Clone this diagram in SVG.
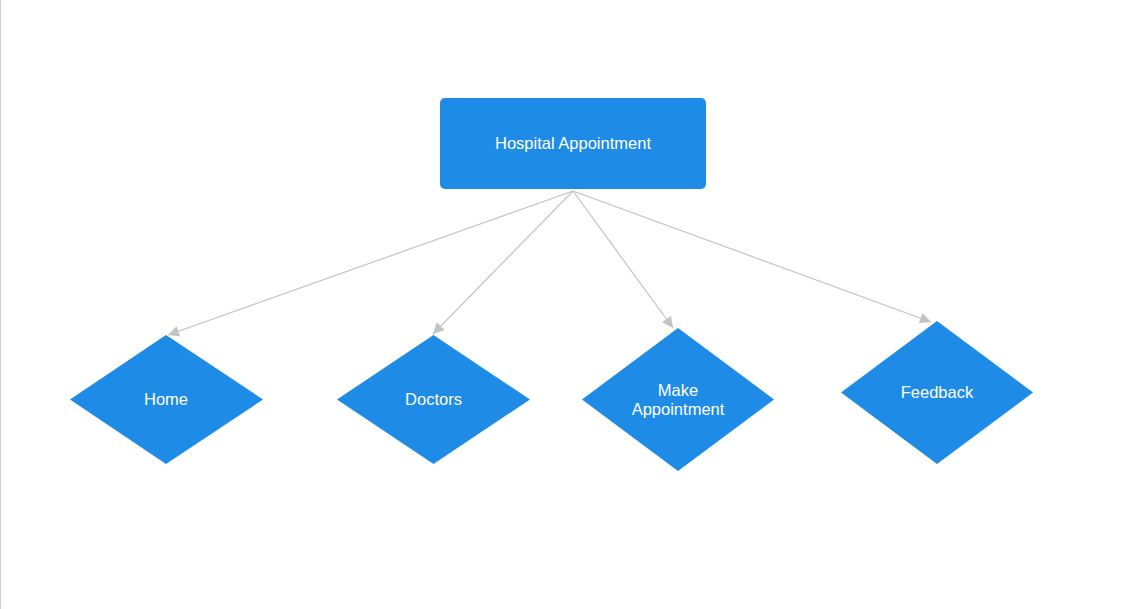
<svg xmlns="http://www.w3.org/2000/svg" width="1125" height="609" viewBox="0 0 1125 609">
<style>
.node{fill:#1e8be6;}
.lbl{fill:#ffffff;font-family:"Liberation Sans",Arial,sans-serif;font-size:16.5px;text-anchor:middle;dominant-baseline:central;}
.edge{stroke:#c3c3c3;stroke-width:1.2;fill:none;marker-end:url(#arr);}
</style>
<defs>
<marker id="arr" viewBox="0 0 10 10" refX="10" refY="5" markerWidth="12" markerHeight="11" markerUnits="userSpaceOnUse" orient="auto">
<path d="M0,0 L10,5 L0,10 z" fill="#c3c3c3"/>
</marker>
</defs>
<rect x="0" y="0" width="1125" height="609" fill="#ffffff"/>
<line x1="0.5" y1="0" x2="0.5" y2="609" stroke="#d0d0d0" stroke-width="1"/>
<g id="connectors">
<line class="edge" x1="573" y1="191" x2="168" y2="335"/>
<line class="edge" x1="573" y1="191" x2="433" y2="334"/>
<line class="edge" x1="573" y1="191" x2="673" y2="328"/>
<line class="edge" x1="573" y1="191" x2="931" y2="322"/>
</g>
<g id="hospital">
<rect class="node" x="440" y="98" width="266" height="91" rx="5"/>
<text class="lbl" x="573" y="143">Hospital Appointment</text>
</g>
<g id="home">
<polygon class="node" points="166,335 263,399.5 166,464 70,399.5"/>
<text class="lbl" x="166" y="399">Home</text>
</g>
<g id="doctors">
<polygon class="node" points="433.5,335 530,399.5 433.5,464 337,399.5"/>
<text class="lbl" x="433.5" y="399">Doctors</text>
</g>
<g id="make">
<polygon class="node" points="678,328 774,399.5 678,471 582,399.5"/>
<text class="lbl" x="678" y="390">Make</text>
<text class="lbl" x="678" y="409">Appointment</text>
</g>
<g id="feedback">
<polygon class="node" points="937,321 1033,392.5 937,464 841,392.5"/>
<text class="lbl" x="937" y="392">Feedback</text>
</g>
</svg>
